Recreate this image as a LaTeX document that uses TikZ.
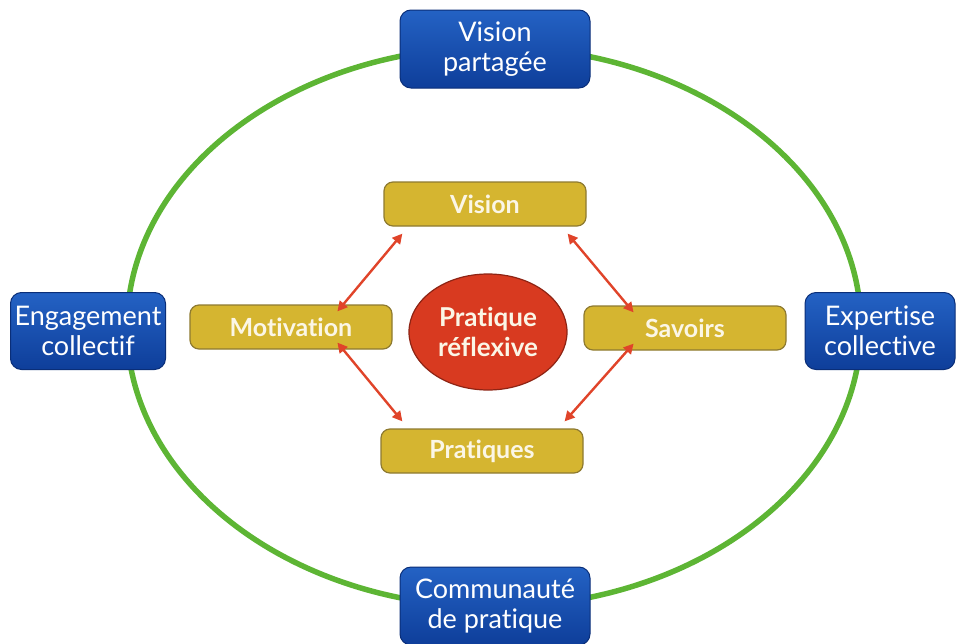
\documentclass[tikz,border=0pt]{standalone}
\usepackage{fontspec}
\setmainfont{Lato}[Ligatures=NoCommon]
\usetikzlibrary{shapes.geometric,arrows.meta}
\definecolor{ringgreen}{HTML}{5DB534}
\definecolor{bluetop}{HTML}{2462C4}
\definecolor{bluebot}{HTML}{0E3E9A}
\definecolor{blueedge}{HTML}{0A2E78}
\definecolor{mustard}{HTML}{D5B530}
\definecolor{mustardedge}{HTML}{8E7A30}
\definecolor{redfill}{HTML}{D83A20}
\definecolor{rededge}{HTML}{8E2414}
\definecolor{arrowred}{HTML}{E0442A}
\definecolor{paletext}{HTML}{FBF6E6}
\tikzset{
  bluebox/.style={draw=blueedge, line width=1pt, rounded corners=11pt,
    top color=bluetop, bottom color=bluebot, text=white, align=center,
    font=\fontsize{27}{30}\selectfont, inner sep=0pt},
  goldbox/.style={draw=mustardedge, line width=1.2pt, rounded corners=9pt,
    fill=mustard, text=paletext, align=center,
    font=\bfseries\fontsize{25}{28}\selectfont, minimum width=202pt, minimum height=44pt, inner sep=0pt},
  corenode/.style={ellipse, draw=rededge, line width=1.2pt, fill=redfill, text=paletext,
    align=center, font=\bfseries\fontsize{26}{30}\selectfont, minimum width=158pt, minimum height=116pt, inner sep=0pt},
  twoway/.style={arrowred, line width=2.4pt, {Triangle[length=10pt,width=10pt]}-{Triangle[length=10pt,width=10pt]}}
}
\begin{document}
\begin{tikzpicture}[x=1pt,y=-1pt]
\useasboundingbox (0,0) rectangle (959,643);
% ring
\draw[ringgreen, line width=5.5pt] (494,327) ellipse [x radius=367, y radius=280];
% outer blue boxes
\node[bluebox, minimum width=190pt, minimum height=78pt] (vp) at (495,49) {Vision\\partagée};
\node[bluebox, minimum width=155pt, minimum height=77pt] (ec) at (88,331) {Engagement\\collectif};
\node[bluebox, minimum width=150pt, minimum height=77pt] (ex) at (880,331) {Expertise\\collective};
\node[bluebox, minimum width=190pt, minimum height=78pt] (cp) at (495,606) {Communauté\\de pratique};
% inner gold boxes
\node[goldbox] (vi) at (485,204) {Vision};
\node[goldbox] (mo) at (291,327) {Motivation};
\node[goldbox] (sa) at (685,328) {Savoirs};
\node[goldbox] (pr) at (482,451) {Pratiques};
% centre
\node[corenode] (px) at (488,332) {Pratique\\réflexive};
% arrows
\coordinate (a1) at ([xshift=19pt,yshift=-7pt]vi.south west);
\coordinate (a2) at ([xshift=148pt,yshift=-7pt]mo.north west);
\coordinate (b1) at ([xshift=-19pt,yshift=-7pt]vi.south east);
\coordinate (b2) at ([xshift=-153pt,yshift=-7pt]sa.north east);
\coordinate (c1) at ([xshift=148pt,yshift=7pt]mo.south west);
\coordinate (c2) at ([xshift=22pt,yshift=7pt]pr.north west);
\coordinate (d1) at ([xshift=-153pt,yshift=7pt]sa.south east);
\coordinate (d2) at ([xshift=-19pt,yshift=7pt]pr.north east);
\draw[twoway] (a1) -- (a2);
\draw[twoway] (b1) -- (b2);
\draw[twoway] (c1) -- (c2);
\draw[twoway] (d1) -- (d2);
\end{tikzpicture}
\end{document}
